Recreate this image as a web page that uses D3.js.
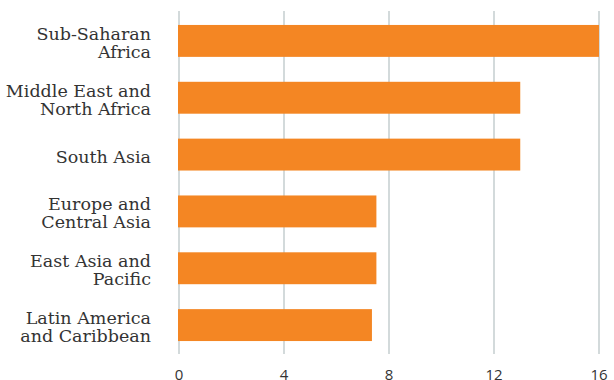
<!DOCTYPE html>
<html>
<head>
<meta charset="utf-8">
<script src="https://cdn.jsdelivr.net/npm/d3@7"></script>
<style>
  body { margin: 0; background: #fff; }
  .label { font-family: "DejaVu Serif", serif; font-size: 17.5px; fill: #333; }
  .tick-label { font-family: "Open Sans", sans-serif; font-size: 15px; fill: #333; }
</style>
</head>
<body>
<svg id="chart" width="614" height="380"></svg>
<script>
const regions = [
  ["Sub-Saharan", "Africa"],
  ["Middle East and", "North Africa"],
  ["South Asia"],
  ["Europe and", "Central Asia"],
  ["East Asia and", "Pacific"],
  ["Latin America", "and Caribbean"]
];
const values = [16, 13, 13, 7.52, 7.52, 7.35];
const ticks = [0, 4, 8, 12, 16];

const svg = d3.select("#chart");
const x = d3.scaleLinear().domain([0, 16]).range([179, 599]);
const y = d3.scaleBand()
  .domain(d3.range(regions.length))
  .range([11, 355])
  .paddingInner(0.4386)
  .paddingOuter(0.2456);

// gridlines
svg.append("g")
  .selectAll("line")
  .data(ticks)
  .join("line")
  .attr("x1", (d) => x(d))
  .attr("x2", (d) => x(d))
  .attr("y1", 11)
  .attr("y2", 354)
  .attr("stroke", "#d3dadb")
  .attr("stroke-width", 2);

// bars
svg.append("g")
  .selectAll("rect")
  .data(values)
  .join("rect")
  .attr("x", x(0) - 1)
  .attr("y", (d, i) => y(i))
  .attr("width", (d) => x(d) - x(0) + 1)
  .attr("height", y.bandwidth())
  .attr("fill", "#f48623");

// category labels
const lh = 18;
svg.append("g")
  .selectAll("text")
  .data(regions)
  .join("text")
  .attr("class", "label")
  .attr("text-anchor", "end")
  .attr("x", 151)
  .attr("y", (d, i) => y(i) + y.bandwidth() / 2 - (d.length - 1) * lh / 2 + 8)
  .selectAll("tspan")
  .data((d) => d)
  .join("tspan")
  .attr("x", 151)
  .attr("dy", (d, i) => (i === 0 ? 0 : lh))
  .text((d) => d);

// x tick labels
svg.append("g")
  .selectAll("text")
  .data(ticks)
  .join("text")
  .attr("class", "tick-label")
  .attr("text-anchor", "middle")
  .attr("x", (d) => x(d))
  .attr("y", 380)
  .text((d) => d);
</script>
</body>
</html>
